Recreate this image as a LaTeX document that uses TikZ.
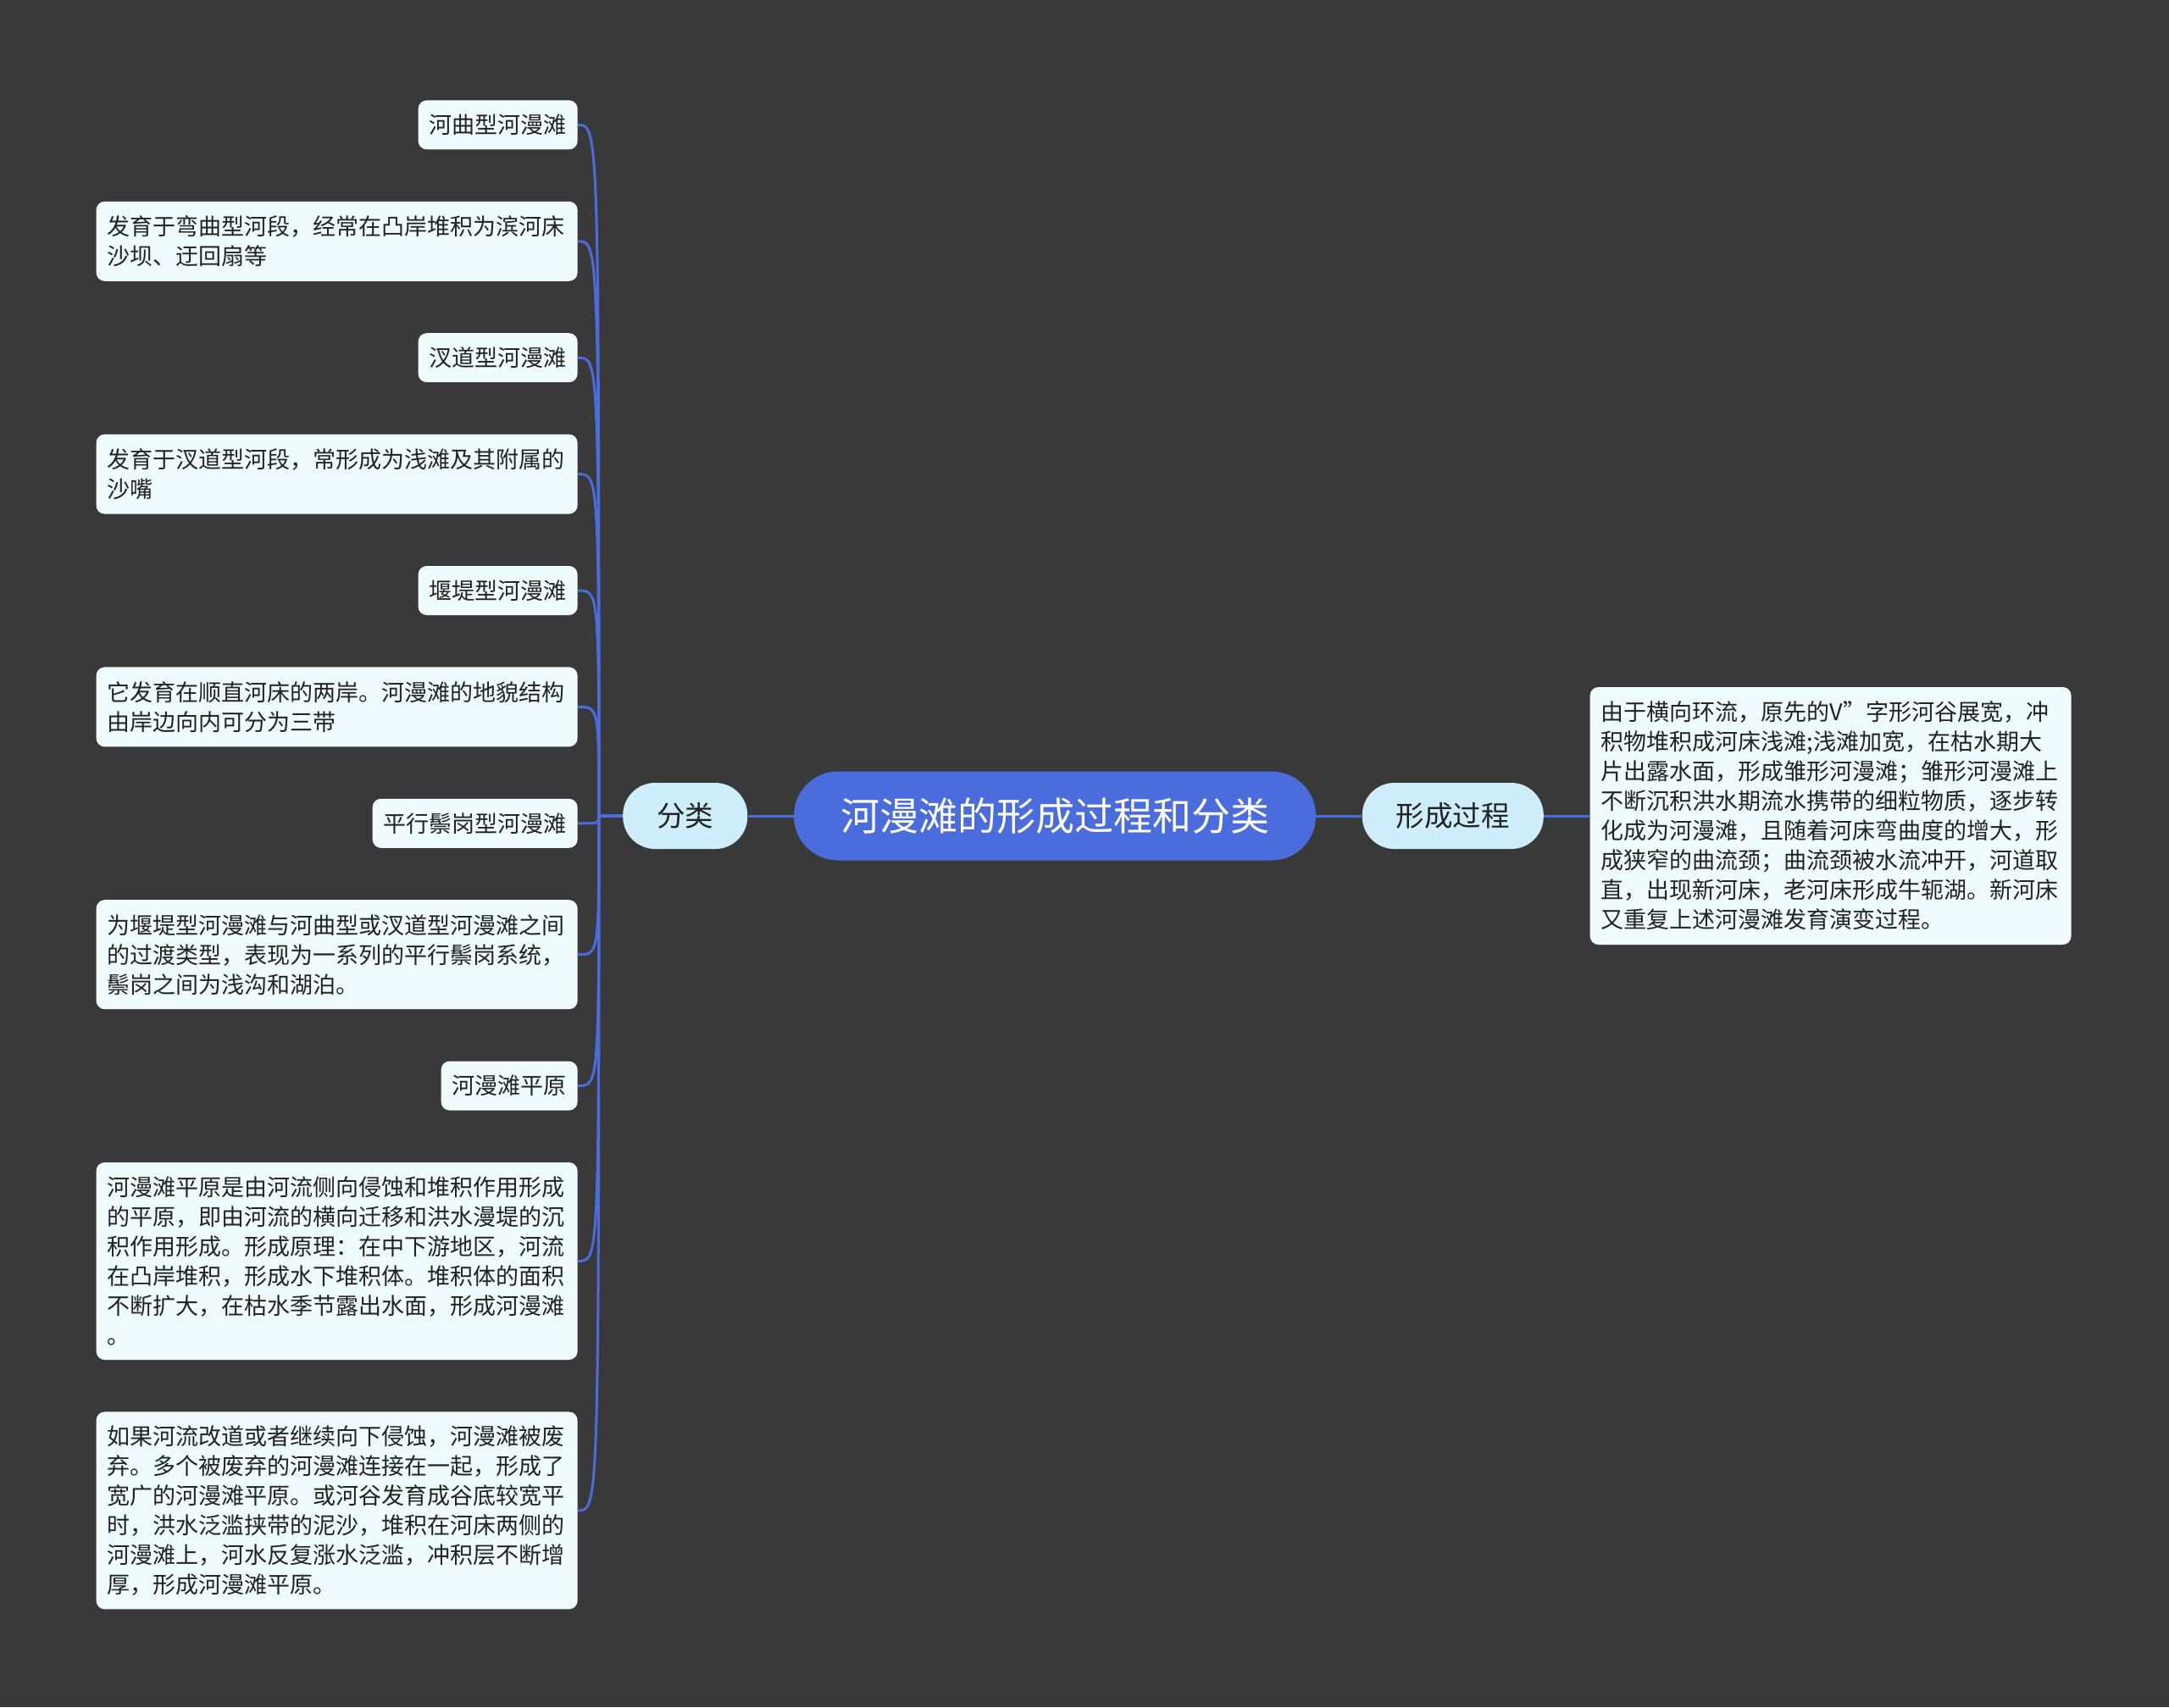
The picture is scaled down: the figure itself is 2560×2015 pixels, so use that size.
\documentclass[tikz,border=0pt]{standalone}
\usepackage{fontspec}
\setmainfont{Noto Sans CJK SC}
\usepackage{tikz}
\usetikzlibrary{positioning}
\definecolor{mmBack}{HTML}{3A393A}
\definecolor{mmRoot}{HTML}{4B6CDC}
\definecolor{mmLine}{HTML}{4B6CDC}
\definecolor{mmMain}{HTML}{CFEEFB}
\definecolor{mmLeaf}{HTML}{EFFBFD}
\definecolor{mmText}{HTML}{222222}
\tikzset{
  mmnode/.style={
    rounded corners=5pt, font=\fontsize{13.5}{17.5}\selectfont,
    text=mmText, inner xsep=6.5pt, inner ysep=4pt
  },
  leaf/.style={mmnode, fill=mmLeaf, minimum height=29pt},
  note/.style={mmnode, fill=mmLeaf, text width=271pt, align=left},
  root/.style={
    fill=mmRoot, text=white, rounded corners=26pt, minimum width=308pt,
    minimum height=52.5pt, font=\fontsize{23}{28}\selectfont
  },
  branch/.style={
    fill=mmMain, text=mmText, rounded corners=19pt, minimum height=39pt,
    inner xsep=20pt, font=\fontsize{16.75}{20}\selectfont
  },
  link/.style={draw=mmLine, line width=1.5pt}
}

\begin{document}
\begin{tikzpicture}[x=0.5pt, y=-0.5pt, node distance=27pt]
  \fill[mmBack] (0,0) rectangle (2560,2015);
  \useasboundingbox (0,0) rectangle (2560,2015);

  % centre and main branches
  \node[root] (root) at (1245,963) {河漫滩的形成过程和分类};
  \node[branch, left=of root] (fenlei) {分类};
  \node[branch, right=of root] (xingcheng) {形成过程};
  \node[note, minimum height=152pt, right=of xingcheng] (detail) {由于横向环流，原先的V”字形河谷展宽，冲\\积物堆积成河床浅滩;浅滩加宽，在枯水期大\\片出露水面，形成雏形河漫滩；雏形河漫滩上\\不断沉积洪水期流水携带的细粒物质，逐步转\\化成为河漫滩，且随着河床弯曲度的增大，形\\成狭窄的曲流颈；曲流颈被水流冲开，河道取\\直，出现新河床，老河床形成牛轭湖。新河床\\又重复上述河漫滩发育演变过程。};

  % left column
  \node[leaf, anchor=north east] (l1) at (682,118) {河曲型河漫滩};
  \node[note, minimum height=47pt, below=30.3pt of l1.south east, anchor=north east] (l2) {发育于弯曲型河段，经常在凸岸堆积为滨河床\\沙坝、迂回扇等};
  \node[leaf, below=30.3pt of l2.south east, anchor=north east] (l3) {汊道型河漫滩};
  \node[note, minimum height=47pt, below=30.3pt of l3.south east, anchor=north east] (l4) {发育于汊道型河段，常形成为浅滩及其附属的\\沙嘴};
  \node[leaf, below=30.3pt of l4.south east, anchor=north east] (l5) {堰堤型河漫滩};
  \node[note, minimum height=47pt, below=30.3pt of l5.south east, anchor=north east] (l6) {它发育在顺直河床的两岸。河漫滩的地貌结构\\由岸边向内可分为三带};
  \node[leaf, below=30.3pt of l6.south east, anchor=north east] (l7) {平行鬃岗型河漫滩};
  \node[note, minimum height=64.5pt, below=30.3pt of l7.south east, anchor=north east] (l8) {为堰堤型河漫滩与河曲型或汊道型河漫滩之间\\的过渡类型，表现为一系列的平行鬃岗系统，\\鬃岗之间为浅沟和湖泊。};
  \node[leaf, below=30.3pt of l8.south east, anchor=north east] (l9) {河漫滩平原};
  \node[note, minimum height=116.5pt, below=30.3pt of l9.south east, anchor=north east] (l10) {河漫滩平原是由河流侧向侵蚀和堆积作用形成\\的平原，即由河流的横向迁移和洪水漫堤的沉\\积作用形成。形成原理：在中下游地区，河流\\在凸岸堆积，形成水下堆积体。堆积体的面积\\不断扩大，在枯水季节露出水面，形成河漫滩\\。};
  \node[note, minimum height=116.5pt, below=30.3pt of l10.south east, anchor=north east] (l11) {如果河流改道或者继续向下侵蚀，河漫滩被废\\弃。多个被废弃的河漫滩连接在一起，形成了\\宽广的河漫滩平原。或河谷发育成谷底较宽平\\时，洪水泛滥挟带的泥沙，堆积在河床两侧的\\河漫滩上，河水反复涨水泛滥，冲积层不断增\\厚，形成河漫滩平原。};

  % connectors
  \coordinate[left=14pt of fenlei.west] (trunk);
  \draw[link] (fenlei) -- (root);
  \draw[link] (root) -- (xingcheng);
  \draw[link] (xingcheng) -- (detail);
  \foreach \n in {1,...,11}{
    \draw[link] (fenlei.west) -- (trunk) .. controls (trunk |- l\n.east) .. (l\n.east);
  }
\end{tikzpicture}
\end{document}
